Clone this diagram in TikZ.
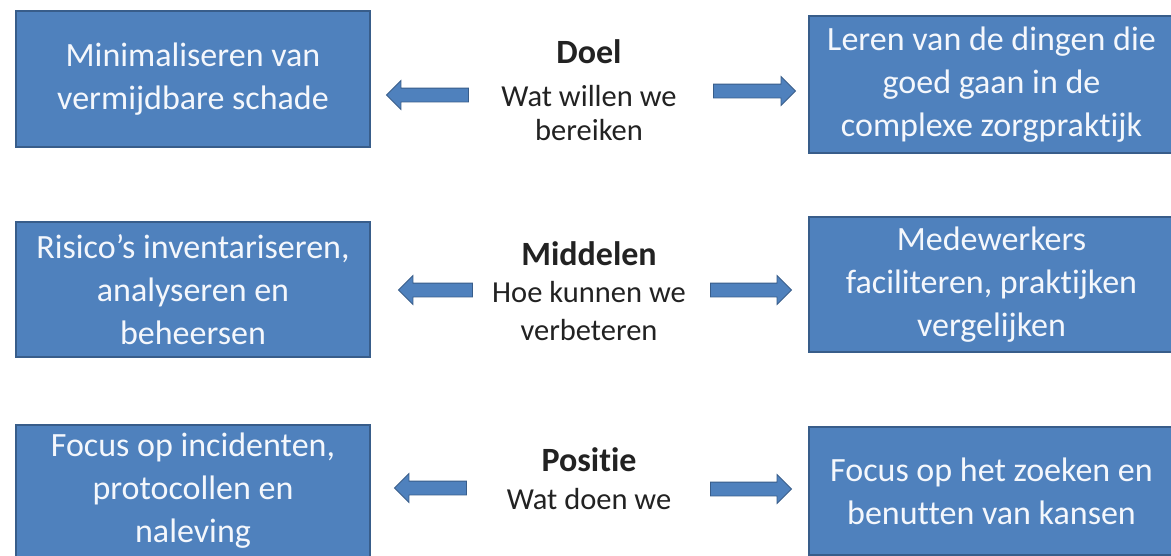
\documentclass[tikz,border=0pt]{standalone}
\usepackage{fontspec}
\setmainfont{Carlito}[Ligatures=NoCommon]
\usetikzlibrary{shapes.arrows}
\definecolor{boxblue}{HTML}{4F81BD}
\definecolor{boxedge}{HTML}{385D8A}
\definecolor{boxtext}{HTML}{F4F7FC}
\definecolor{labeltext}{HTML}{222222}
\tikzset{
  infobox/.style={draw=boxedge, line width=2pt, fill=boxblue, text=boxtext, align=center,
    inner sep=0pt, font=\fontsize{34}{43}\selectfont},
  blockarrow/.style={single arrow, draw=boxedge, line width=0.8pt, fill=boxblue,
    inner sep=6.5pt, single arrow head extend=7.5pt, single arrow head indent=0pt},
  leftarrow/.style={blockarrow, shape border rotate=180},
  titletext/.style={font=\fontsize{34}{40}\selectfont\bfseries, text=labeltext, anchor=base, inner sep=0pt},
  subtext/.style={font=\fontsize{30.5}{36}\selectfont, text=labeltext, anchor=base, inner sep=0pt},
}
\begin{document}
\begin{tikzpicture}[x=1pt,y=-1pt]
\useasboundingbox (0,0) rectangle (1171,555);
\clip (0,0) rectangle (1171,555);
\fill[white] (0,0) rectangle (1171,555);

% boxes left
\node[infobox, minimum width=354pt, minimum height=136pt] (tl) at (193,79) {Minimaliseren van\\vermijdbare schade};
\node[infobox, minimum width=354pt, minimum height=135pt] (ml) at (193,289.5) {Risico’s inventariseren,\\analyseren en\\beheersen};
\node[infobox, minimum width=354pt, minimum height=132pt] (bl) at (193,491) {Focus op incidenten,\\protocollen en\\naleving};

% boxes right
\node[infobox, minimum width=365pt, minimum height=137pt] (tr) at (991.5,84.5) {Leren van de dingen die\\goed gaan in de\\complexe zorgpraktijk};
\node[infobox, minimum width=365pt, minimum height=135pt] (mr) at (991.5,284.5) {Medewerkers\\faciliteren, praktijken\\vergelijken};
\node[infobox, minimum width=365pt, minimum height=128pt] (br) at (991.5,491) {Focus op het zoeken en\\benutten van kansen};

% arrows
\node[leftarrow, minimum height=82pt] (al1) at (431,95) {};
\node[blockarrow, minimum height=82pt] (ar1) at (751,91) {};
\node[leftarrow, minimum height=74pt] (al2) at (439,290) {};
\node[blockarrow, minimum height=81pt] (ar2) at (747.5,290) {};
\node[leftarrow, minimum height=72pt] (al3) at (434,488) {};
\node[blockarrow, minimum height=81pt] (ar3) at (747.5,489) {};

% center labels
\node[titletext] (t1) at (589,63) {Doel};
\node[subtext] (s1a) at (589,106) {Wat willen we};
\node[subtext] (s1b) at (589,140) {bereiken};
\node[titletext] (t2) at (589,265) {Middelen};
\node[subtext] (s2a) at (589,302) {Hoe kunnen we};
\node[subtext] (s2b) at (589,340) {verbeteren};
\node[titletext] (t3) at (589,471) {Positie};
\node[subtext] (s3a) at (589,509) {Wat doen we};
\end{tikzpicture}
\end{document}
